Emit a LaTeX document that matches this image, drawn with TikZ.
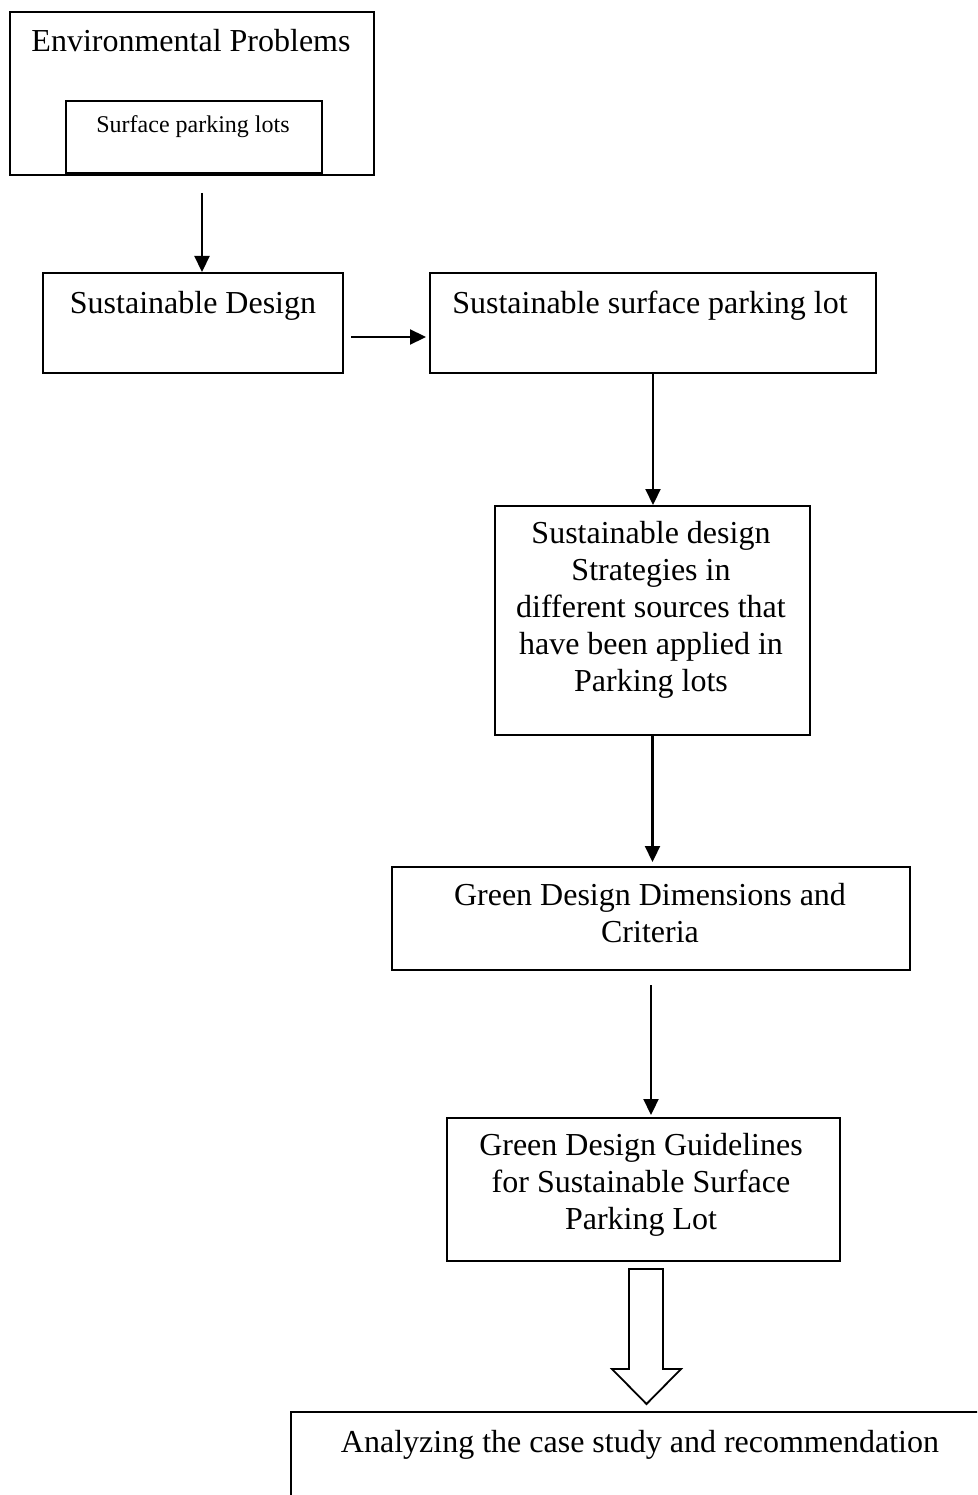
\documentclass[tikz,border=0pt]{standalone}
\usepackage{fontspec}
\setmainfont{Liberation Serif}
\usetikzlibrary{arrows.meta}
\begin{document}
\begin{tikzpicture}[x=1pt,y=-1pt,
  box/.style={draw, line width=2pt, inner sep=0pt, anchor=north west},
  txt/.style={inner sep=0pt, font=\fontsize{32}{37}\selectfont, align=center},
  small/.style={inner sep=0pt, font=\fontsize{24}{28}\selectfont},
  arr/.style={line width=2.2pt, -{Triangle[length=16pt,width=15pt]}},
  hollow/.style={draw, line width=1.8pt, fill=white, line join=miter}]
\useasboundingbox (0,0) rectangle (977,1495);
\clip (0,0) rectangle (977,1495);
% boxes
\node[box, minimum width=364pt, minimum height=163pt] (env) at (9,11) {};
\node[box, minimum width=256pt, minimum height=72pt] (spl) at (65,100) {};
\node[box, minimum width=300pt, minimum height=100pt] (sd) at (42,272) {};
\node[box, minimum width=446pt, minimum height=100pt] (sp) at (429,272) {};
\node[box, minimum width=315pt, minimum height=229pt] (st) at (494,505) {};
\node[box, minimum width=518pt, minimum height=103pt] (dim) at (391,866) {};
\node[box, minimum width=393pt, minimum height=143pt] (gd) at (446,1117) {};
\node[box, minimum width=700pt, minimum height=140pt] (an) at (290,1411) {};
% texts
\node[txt, anchor=base] (tenv) at (191,52) {Environmental Problems};
\node[small, anchor=base] (tspl) at (193,133) {Surface parking lots};
\node[txt, anchor=base] (tsd) at (193,313) {Sustainable Design};
\node[txt, anchor=base] (tsp) at (650,313) {Sustainable surface parking lot};
\node[txt, anchor=north] (tst) at (651,521) {Sustainable design\\Strategies in\\different sources that\\have been applied in\\Parking lots};
\node[txt, anchor=north] (tdim) at (650,883) {Green Design Dimensions and\\Criteria};
\node[txt, anchor=north] (tgd) at (641,1133) {Green Design Guidelines\\for Sustainable Surface\\Parking Lot};
\node[txt, anchor=base] (tan) at (640,1452) {Analyzing the case study and recommendation};
% connectors
\draw[arr] ([xshift=10pt,yshift=-17pt]env.south) coordinate (a1) -- (a1 |- sd.north);
\draw[arr, shorten >=3pt] ([xshift=7pt,yshift=-14pt]sd.east) coordinate (a2) -- (a2 -| sp.west);
\draw[arr] (sp.south) -- (sp.south |- st.north);
\draw[arr, shorten >=4pt] (st.south) -- (st.south |- dim.north);
\draw[arr, shorten >=2pt] ([yshift=-14pt]dim.south) coordinate (a3) -- (a3 |- gd.north);
% block arrow
\draw[hollow] ([xshift=-14.5pt,yshift=-7pt]gd.south) coordinate (b1)
  -- ++(34,0) -- ++(0,100) -- ++(18,0) -- ++(-34.5,35) -- ++(-34.5,-35) -- ++(17,0) -- cycle;
\end{tikzpicture}
\end{document}
